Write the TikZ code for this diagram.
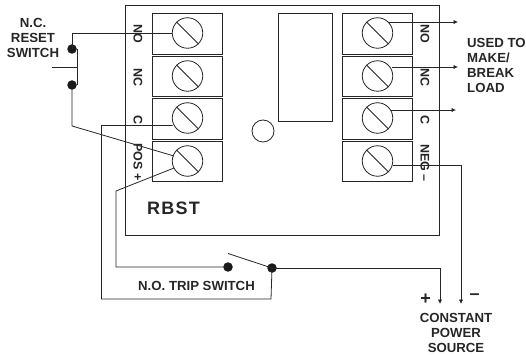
\documentclass[tikz,border=0pt]{standalone}
\usepackage{fontspec}
\setmainfont{Liberation Sans}
\newfontfamily\rbstfont[LetterSpace=7]{Liberation Sans}
\usetikzlibrary{arrows.meta}
\tikzset{
  x=1pt,y=-1pt,
  ln/.style={line width=0.8pt,draw=black!85},
  term/.style={ln,draw,rectangle,minimum width=70pt,minimum height=40.8pt,inner sep=0pt,anchor=center},
  screw/.style={ln,draw,circle,minimum size=30.5pt,inner sep=0pt,fill=white},
  dot/.style={circle,fill=black!90,minimum size=9.5pt,inner sep=0pt},
  lab/.style={font=\fontsize{13.2}{15}\selectfont\bfseries,text=black!85,inner sep=0pt},
  side/.style={lab,rotate=-90,font=\fontsize{12.5}{14}\selectfont\bfseries},
  arr/.style={ln,-{Latex[length=4.5pt,width=4.5pt]}},
}
\begin{document}
\begin{tikzpicture}
\useasboundingbox (0,0) rectangle (526,355);
\node[ln,draw,rectangle,minimum width=314pt,minimum height=230pt,inner sep=0pt] (board) at (282,120) {};
\node[ln,draw,rectangle,minimum width=53.5pt,minimum height=108pt,inner sep=0pt] (relay) at (305.5,67) {};
\node[ln,draw,circle,minimum size=22pt,inner sep=0pt] (led) at (263,131) {};
% left terminals
\node[term] (tl1) at (187.5,33.8) {};
\node[term] (tl2) at (187.5,76.35) {};
\node[term] (tl3) at (187.5,118.8) {};
\node[term] (tl4) at (187.5,161.35) {};
\node[screw] (sl1) at (187.5,33) {};
\node[screw] (sl2) at (187.5,76) {};
\node[screw] (sl3) at (187.5,118) {};
\node[screw] (sl4) at (187.5,161) {};
% right terminals
\node[term] (tr1) at (377.75,33.8) {};
\node[term] (tr2) at (377.75,76.35) {};
\node[term] (tr3) at (377.75,118.8) {};
\node[term] (tr4) at (377.75,161.35) {};
\node[screw] (sr1) at (377.5,33) {};
\node[screw] (sr2) at (377.5,76) {};
\node[screw] (sr3) at (377.5,118) {};
\node[screw] (sr4) at (377.5,161) {};
\foreach \s in {sl1,sl2,sl3,sl4,sr1,sr2,sr3,sr4}
  \draw[ln] (\s.135) -- (\s.-45);
% side labels
\node[side] (a1) at (138,33.5) {NO};
\node[side] (a2) at (138,78) {NC};
\node[side] (a3) at (138,120) {C};
\node[side] (a4) at (138,162) {POS +};
\node[side] (b1) at (425,33.5) {NO};
\node[side] (b2) at (425,78) {NC};
\node[side] (b3) at (425,120) {C};
\node[side] (b4) at (425,163) {NEG –};
% texts
\node[lab] (t1) at (33,22.5) {N.C.};
\node[lab] (t2) at (33,37.5) {RESET};
\node[lab] (t3) at (33,52.5) {SWITCH};
\node[lab,anchor=west] (t4) at (467,42.5) {USED TO};
\node[lab,anchor=west] (t5) at (467,57.5) {MAKE/};
\node[lab,anchor=west] (t6) at (467,73) {BREAK};
\node[lab,anchor=west] (t7) at (467,87.5) {LOAD};
\node[lab,anchor=west,font=\fontsize{18}{20}\selectfont\rbstfont\bfseries] (t8) at (147,208) {RBST};
\node[lab] (t9) at (196.5,285.5) {N.O. TRIP SWITCH};
\node[lab] (t10) at (456,317.5) {CONSTANT};
\node[lab] (t11) at (456,333) {POWER};
\node[lab] (t12) at (456,348) {SOURCE};
\node[lab,font=\fontsize{18}{20}\selectfont\bfseries] (t13) at (425.5,299) {+};
\node[lab,font=\fontsize{18}{20}\selectfont\bfseries] (t14) at (474.5,297) {–};
% dots
\node[dot] (d1) at (72,49) {};
\node[dot] (d2) at (72,85) {};
\node[dot] (d3) at (228,267) {};
\node[dot] (d4) at (272,268) {};
% coordinates
\coordinate (c1) at (72,33);
\coordinate (c2) at (72,126);
\coordinate (c3) at (77,49);
\coordinate (c4) at (77,85);
\coordinate (c5) at (52,67);
\coordinate (c6) at (77,67);
\coordinate (c7) at (101.5,125.5);
\coordinate (c8) at (101.5,299);
\coordinate (c9) at (271,299);
\coordinate (c10) at (116,191);
\coordinate (c11) at (116,267);
\coordinate (c12) at (228,253.5);
\coordinate (c13) at (440,268);
\coordinate (c14) at (440,304);
\coordinate (c15) at (461,165);
\coordinate (c16) at (461,304);
\coordinate (e1) at (458,22);
\coordinate (e2) at (458,67);
\coordinate (e3) at (456,110);
\coordinate (s3) at (172.5,125.5);
\coordinate (s4a) at (174,156);
\coordinate (s4b) at (174,168);
\coordinate (s1a) at (172,33);
\coordinate (r1) at (389,22);
\coordinate (r2) at (392,67);
\coordinate (r3) at (391,110);
\coordinate (r4) at (393,165);
% wires
\draw[ln] (s1a) -- (c1) -- (d1.center);
\draw[ln] (d2.center) -- (c2) -- (s4a);
\draw[ln] (c3) -- (c4);
\draw[ln] (c5) -- (c6);
\draw[ln] (s3) -- (c7) -- (c8) -- (c9) -- (d4.center);
\draw[ln] (s4b) -- (c10) -- (c11) -- (d3.center);
\draw[ln] (c12) -- (d4.center);
\draw[arr] (d4.center) -- (c13) -- (c14);
\draw[arr] (r4) -- (c15) -- (c16);
\draw[arr] (r1) -- (e1);
\draw[arr] (r2) -- (e2);
\draw[arr] (r3) -- (e3);
\end{tikzpicture}
\end{document}
